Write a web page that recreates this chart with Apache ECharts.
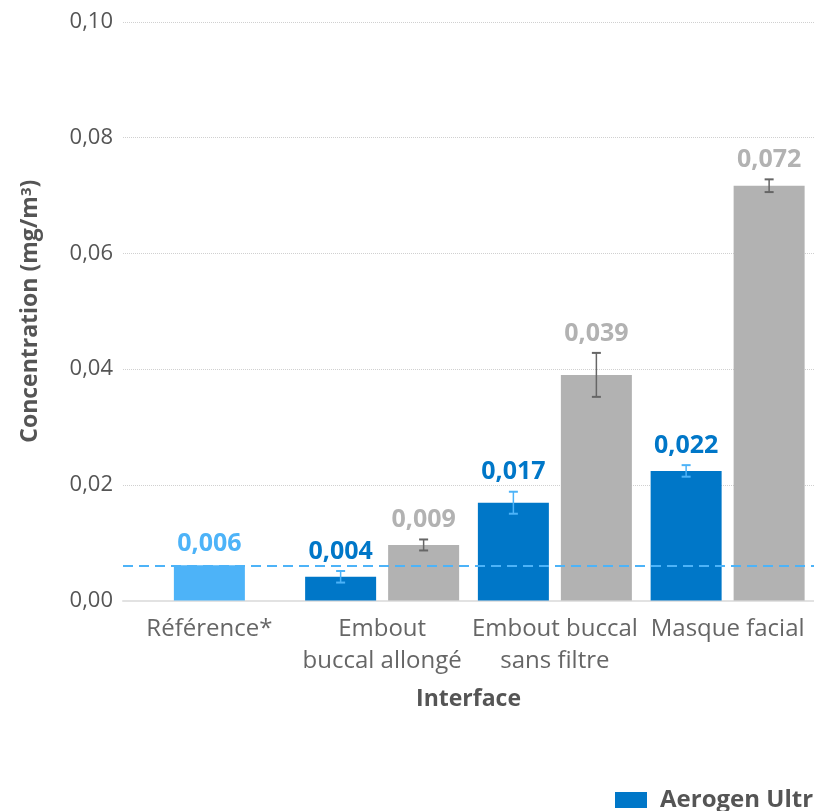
<!DOCTYPE html>
<html><head><meta charset="utf-8">
<script src="https://cdn.jsdelivr.net/npm/echarts@6/dist/echarts.min.js"></script>
<style>html,body{margin:0;padding:0;background:#fff}#c{width:814px;height:811px}</style>
</head><body><div id="c"></div>
<script>
const categories = ['Référence*', 'Embout\nbuccal allongé', 'Embout buccal\nsans filtre', 'Masque facial'];
const referenceValues = [0.0061, '-', '-', '-'];
const referenceLabels = ['0,006', '', '', ''];
const ultraName = 'Aerogen Ultra';
const ultraValues = ['-', 0.0041, 0.0169, 0.0224];
const ultraErrors = [0, 0.001, 0.0019, 0.001];
const ultraLabels = ['', '0,004', '0,017', '0,022'];
const otherName = 'Nébuliseur';
const otherValues = ['-', 0.0096, 0.039, 0.0717];
const otherErrors = [0, 0.00095, 0.0038, 0.0011];
const otherLabels = ['', '0,009', '0,039', '0,072'];
const referenceLine = 0.006;
const yTicks = [0, 0.02, 0.04, 0.06, 0.08, 0.10];

const FONT = 'Open Sans';
const BLUE = '#0077C8', GRAY = '#B2B2B2', LIGHT = '#4DB3F8';
const BAR_W = 71, BAR_GAP = 12;

function errData(values, errors, labels) {
  const out = [];
  values.forEach((v, i) => { if (v !== '-') out.push([i, v, errors[i], labels[i]]); });
  return out;
}
function errSeries(name, values, errors, labels, side, errColor, labelColor) {
  return {
    type: 'custom', name: name + ' err', xAxisIndex: 0, z: 5,
    data: errData(values, errors, labels),
    renderItem: function (params, api) {
      const i = api.value(0), v = api.value(1), e = api.value(2);
      const c = api.coord([i, v]);
      const x = c[0] + side * (BAR_W + BAR_GAP) / 2;
      const yTop = api.coord([i, v + e])[1];
      const yBot = api.coord([i, v - e])[1];
      const cap = 4.5;
      return { type: 'group', children: [
        { type: 'line', shape: { x1: x, y1: yTop, x2: x, y2: yBot }, style: { stroke: errColor, lineWidth: 1.5 } },
        { type: 'line', shape: { x1: x - cap, y1: yTop, x2: x + cap, y2: yTop }, style: { stroke: errColor, lineWidth: 2 } },
        { type: 'line', shape: { x1: x - cap, y1: yBot, x2: x + cap, y2: yBot }, style: { stroke: errColor, lineWidth: 2 } },
        { type: 'text', style: { x: x, y: yTop - 7, text: labels[i], fill: labelColor, font: 'bold 25px "' + FONT + '"', textAlign: 'center', textVerticalAlign: 'bottom' } }
      ]};
    }
  };
}

const chart = echarts.init(document.getElementById('c'), null, { renderer: 'canvas' });
chart.setOption({
  animation: false,
  textStyle: { fontFamily: FONT },
  grid: { left: 123, width: 699, top: 22, bottom: 210.5, containLabel: false },
  legend: {
    data: [ultraName], left: 610, top: 783, itemWidth: 32, itemHeight: 16,
    icon: 'rect', textStyle: { fontFamily: FONT, fontWeight: 'bold', fontSize: 24, color: '#555', padding: [0, 0, 0, 8] }
  },
  xAxis: [{
    type: 'category', data: categories,
    name: 'Interface', nameLocation: 'middle', nameGap: 87,
    nameTextStyle: { fontFamily: FONT, fontWeight: 'bold', fontSize: 23, color: '#555' },
    axisLine: { lineStyle: { color: '#E2E2E2', width: 2 } }, axisTick: { show: false },
    axisLabel: { fontFamily: FONT, fontSize: 24, color: '#666', lineHeight: 32, margin: 13, interval: 0 }
  }, {
    type: 'category', data: categories, show: false
  }],
  yAxis: {
    type: 'value', min: 0, max: 0.1, interval: 0.02,
    name: 'Concentration (mg/m{sup|3})', nameLocation: 'middle', nameGap: 81, nameRotate: 90,
    nameTextStyle: { fontFamily: FONT, fontWeight: 'bold', fontSize: 23, color: '#555',
      rich: { sup: { fontFamily: FONT, fontWeight: 'bold', fontSize: 15, color: '#555', verticalAlign: 'top', padding: [0, 0, 8, 0] } } },
    axisLine: { show: false }, axisTick: { show: false },
    axisLabel: { fontFamily: FONT, fontSize: 22, color: '#555', margin: 10,
      formatter: v => yTicks.includes(+v.toFixed(2)) ? v.toFixed(2).replace('.', ',') : '' },
    splitLine: { lineStyle: { color: '#D0D0D0', type: [1, 1], width: 1 } }
  },
  series: [
    { type: 'bar', name: 'Référence', xAxisIndex: 1, data: referenceValues, barWidth: BAR_W,
      itemStyle: { color: LIGHT },
      label: { show: true, position: 'top', distance: 9, formatter: p => referenceLabels[p.dataIndex],
        fontFamily: FONT, fontWeight: 'bold', fontSize: 25, color: LIGHT },
      markLine: { silent: true, symbol: 'none', precision: 5, label: { show: false }, z: 10,
        lineStyle: { color: LIGHT, type: [10, 6], width: 2 }, data: [{ yAxis: referenceLine }] }
    },
    { type: 'bar', name: ultraName, xAxisIndex: 0, data: ultraValues, barWidth: BAR_W, barGap: (BAR_GAP / BAR_W * 100) + '%',
      itemStyle: { color: BLUE } },
    { type: 'bar', name: otherName, xAxisIndex: 0, data: otherValues, barWidth: BAR_W,
      itemStyle: { color: GRAY } },
    errSeries(ultraName, ultraValues, ultraErrors, ultraLabels, -1, LIGHT, BLUE),
    errSeries(otherName, otherValues, otherErrors, otherLabels, 1, '#666', GRAY)
  ]
});
</script></body></html>
